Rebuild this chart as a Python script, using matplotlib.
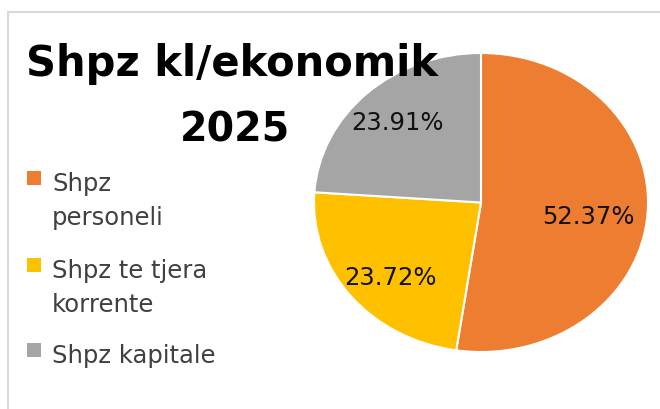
import matplotlib.pyplot as plt
from matplotlib.lines import Line2D
from matplotlib.patches import Rectangle

# Data
categories = [["Shpz", "personeli"], ["Shpz te tjera", "korrente"], ["Shpz kapitale"]]
shares = [52.37, 23.72, 23.91]
colors = ["#ED7D31", "#FFC000", "#A5A5A5"]
title_lines = ["Shpz kl/ekonomik", "2025"]

W, H = 660, 410
fig = plt.figure(figsize=(6.6, 4.1), dpi=100)

def fx(px):
    return px / W

def fy(py):
    return 1 - py / H

# light chart-area border (top and left visible)
fig.add_artist(Line2D([fx(7.5), fx(7.5), 1], [0, fy(13), fy(13)],
                      color="#d9d9d9", lw=1.5))

# pie, slightly stretched horizontally as in the reference
ax = fig.add_axes([fx(314), fy(353), fx(648) - fx(314), fy(54) - fy(353)])
wedges, texts, autotexts = ax.pie(
    shares, colors=colors, startangle=90, counterclock=False,
    autopct=lambda p: f"{p:.2f}%", pctdistance=0.74,
    wedgeprops=dict(edgecolor="white", linewidth=1.5),
    textprops=dict(fontsize=17.5, color="#111111", family="DejaVu Sans"))
ax.set_aspect("auto")
ax.set_xlim(-1.0, 1.0)
ax.set_ylim(-1.0, 1.0)
ax.axis("off")
# label placement similar to Excel's best fit
autotexts[0].set_position((0.64, -0.09))
autotexts[1].set_position((-0.54, -0.50))
autotexts[2].set_position((-0.50, 0.54))

# title
fig.text(fx(232), fy(76), title_lines[0], ha="center", va="baseline",
         fontsize=30, fontweight="bold", family="DejaVu Sans", color="black")
fig.text(fx(235), fy(142), title_lines[1], ha="center", va="baseline",
         fontsize=28.5, fontweight="bold", family="DejaVu Sans", color="black")

# legend, drawn manually so the marker lines up with the first text line
baselines = [191, 278, 363]
for lines, col, base in zip(categories, colors, baselines):
    fig.add_artist(Rectangle((fx(27), fy(base - 5)), fx(14), fy(0) - fy(14),
                             facecolor=col, edgecolor="none"))
    for i, line in enumerate(lines):
        fig.text(fx(52), fy(base + 34 * i), line, ha="left", va="baseline",
                 fontsize=17.5, family="DejaVu Sans", color="#404040")

fig.savefig("out.png", dpi=100)
